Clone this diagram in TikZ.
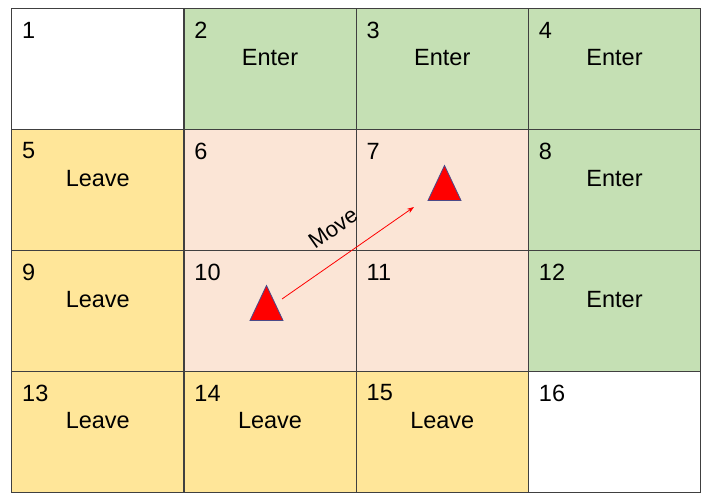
\documentclass[tikz,border=0pt]{standalone}
\usepackage{fontspec}
\setmainfont{Liberation Sans}
\usetikzlibrary{shapes.geometric,arrows.meta,calc}
\definecolor{cgreen}{HTML}{C5E0B4}
\definecolor{cyellow}{HTML}{FFE699}
\definecolor{csalmon}{HTML}{FBE5D6}
\definecolor{cgrid}{HTML}{404040}
\definecolor{cedge}{HTML}{4A4A8A}
\tikzset{
  cell/.style={draw=cgrid, line width=1.3pt, minimum width=172.25pt, minimum height=121pt, inner sep=0pt, anchor=north west},
  num/.style={anchor=west, font=\fontsize{23.5}{24}\selectfont, inner sep=0pt},
  lbl/.style={font=\fontsize{23.5}{24}\selectfont, inner sep=0pt},
  tri/.style={isosceles triangle, shape border rotate=90, isosceles triangle stretches, minimum width=33pt, minimum height=35pt, inner sep=0pt, fill=red, draw=cedge, line width=0.8pt},
  mover/.style={draw=red, line width=0.8pt, -{Stealth[length=7pt,width=5pt]}}
}
\begin{document}
\begin{tikzpicture}[x=1pt,y=-1pt]
\useasboundingbox (0,0) rectangle (707,498);
\fill[white] (0,0) rectangle (707,498);
% cells
\foreach \r in {0,...,3}{
  \foreach \c in {1,...,4}{
    \pgfmathtruncatemacro{\n}{\r*4+\c}
    \pgfmathsetmacro{\xx}{11+(\c-1)*172.25}
    \pgfmathsetmacro{\yy}{8+\r*121}
    \ifnum\n=1 \def\fc{white}\fi
    \ifnum\n=16 \def\fc{white}\fi
    \ifnum\n=2 \def\fc{cgreen}\fi
    \ifnum\n=3 \def\fc{cgreen}\fi
    \ifnum\n=4 \def\fc{cgreen}\fi
    \ifnum\n=8 \def\fc{cgreen}\fi
    \ifnum\n=12 \def\fc{cgreen}\fi
    \ifnum\n=5 \def\fc{cyellow}\fi
    \ifnum\n=9 \def\fc{cyellow}\fi
    \ifnum\n=13 \def\fc{cyellow}\fi
    \ifnum\n=14 \def\fc{cyellow}\fi
    \ifnum\n=15 \def\fc{cyellow}\fi
    \ifnum\n=6 \def\fc{csalmon}\fi
    \ifnum\n=7 \def\fc{csalmon}\fi
    \ifnum\n=10 \def\fc{csalmon}\fi
    \ifnum\n=11 \def\fc{csalmon}\fi
    \node[cell, fill=\fc] (c\n) at (\xx,\yy) {};
    \node[num] (n\n) at ($(\xx,\yy)+(11,22)$) {\n};
  }
}
% labels
\foreach \n in {2,3,4,8,12}{
  \node[lbl] (t\n) at ($(c\n.north)+(0,50)$) {Enter};
}
\foreach \n in {5,9,13,14,15}{
  \node[lbl] (t\n) at ($(c\n.north)+(0,50)$) {Leave};
}
% triangles
\node[tri] (triA) at (266.5,310) {};
\node[tri] (triB) at (444.5,190) {};
\coordinate (aStart) at (282,299);
\coordinate (aEnd) at (414,207);
\draw[mover] (aStart) -- (aEnd);
\node[lbl, rotate=35, font=\fontsize{22}{22}\selectfont] (move) at (333,228) {Move};
\end{tikzpicture}
\end{document}
